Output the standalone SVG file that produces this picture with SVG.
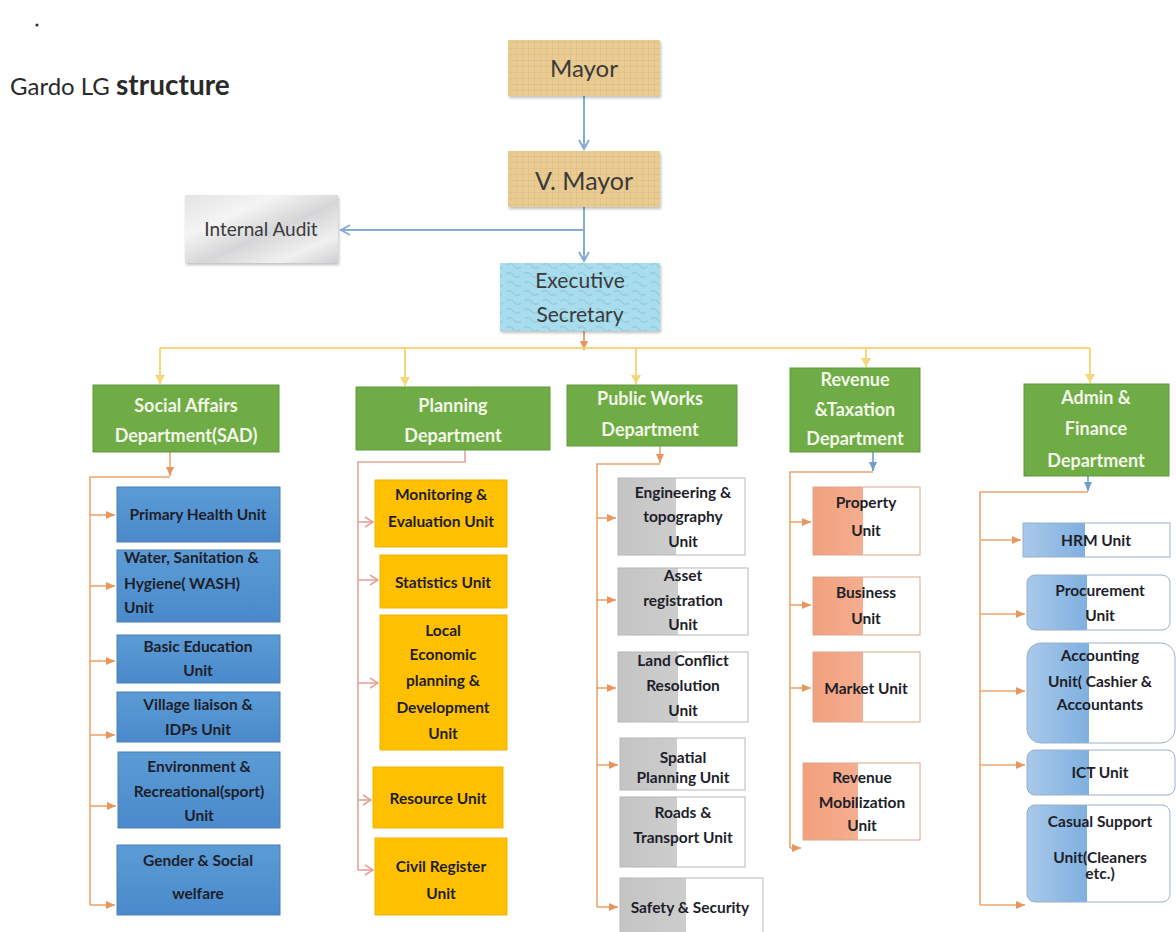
<svg xmlns="http://www.w3.org/2000/svg" width="1176" height="932" viewBox="0 0 1176 932">
<style>
  .t { font-family: Lato, "Open Sans", "Liberation Sans", sans-serif; }
  .top { font-size: 24px; fill: #3a3a3a; text-anchor: middle; }
  .dept rect { fill: #6fac46; stroke: #5e9a3a; stroke-width: 1; }
  .dept text { font-family: Lato, "Open Sans", "Liberation Sans", sans-serif; font-size: 18px; font-weight: bold; fill: #f2f7e8; text-anchor: middle; }
  .unit text { font-family: Lato, "Open Sans", "Liberation Sans", sans-serif; font-size: 15.5px; font-weight: bold; fill: #1e1e2a; text-anchor: middle; }
  .unit text.ls { text-anchor: start; }
  .sad rect { fill: url(#gBlue); stroke: #4d7fb5; }
  .plan rect { fill: #ffc000; stroke: #f0b400; }
  .pw rect { fill: url(#gGrey); stroke: #b8b8b8; }
  .rev rect { fill: url(#gSalmon); stroke: #d9a890; }
  .adm rect { fill: url(#gLblue); stroke: #9ab0c8; }
  .cb { fill: none; stroke: #87abd6; stroke-width: 2; }
  .cy { fill: none; stroke: #f5d77a; stroke-width: 2; }
  .co { fill: none; stroke: #eea46c; stroke-width: 1.6; }
  .cp { fill: none; stroke: #e6a29a; stroke-width: 1.6; }
</style>
<defs>
  <marker id="aBlue" markerWidth="12" markerHeight="12" refX="10" refY="6" orient="auto" markerUnits="userSpaceOnUse">
    <path d="M1,1 L10,6 L1,11" fill="none" stroke="#87abd6" stroke-width="2"/>
  </marker>
  <marker id="aYel" markerWidth="10" markerHeight="10" refX="9" refY="5" orient="auto" markerUnits="userSpaceOnUse">
    <path d="M0,0 L9,5 L0,10 Z" fill="#f5d77a"/>
  </marker>
  <marker id="aOr" markerWidth="10" markerHeight="10" refX="9" refY="5" orient="auto" markerUnits="userSpaceOnUse">
    <path d="M0,1 L9,5 L0,9 Z" fill="#e8955e"/>
  </marker>
  <marker id="aPk" markerWidth="10" markerHeight="12" refX="9" refY="6" orient="auto" markerUnits="userSpaceOnUse">
    <path d="M1,1 L9,6 L1,11" fill="none" stroke="#e6a29a" stroke-width="1.5"/>
  </marker>
  <marker id="aSB" markerWidth="10" markerHeight="10" refX="9" refY="5" orient="auto" markerUnits="userSpaceOnUse">
    <path d="M0,1 L9,5 L0,9 Z" fill="#6f9ccf"/>
  </marker>
  <pattern id="pGrid" width="6" height="6" patternUnits="userSpaceOnUse">
    <rect width="6" height="6" fill="#e9cc93"/>
    <path d="M0,0 H6 M0,0 V6" stroke="#d9b778" stroke-width="0.8"/>
  </pattern>
  <pattern id="pCyan" width="18" height="18" patternUnits="userSpaceOnUse">
    <rect width="18" height="18" fill="#a9dcec"/>
    <path d="M2,4 Q6,1 9,5 T16,6 M3,13 Q7,10 10,14 T17,15" stroke="#8ccde2" stroke-width="1.2" fill="none"/>
  </pattern>
  <linearGradient id="gMarble" x1="0" y1="0" x2="1" y2="1">
    <stop offset="0" stop-color="#e4e4e4"/>
    <stop offset="0.3" stop-color="#f4f4f4"/>
    <stop offset="0.55" stop-color="#d6d6d8"/>
    <stop offset="0.8" stop-color="#f0f0f0"/>
    <stop offset="1" stop-color="#cfcfd2"/>
  </linearGradient>
  <linearGradient id="gBlue" x1="0" y1="0" x2="0" y2="1">
    <stop offset="0" stop-color="#5b9bd5"/>
    <stop offset="1" stop-color="#4a8acb"/>
  </linearGradient>
  <linearGradient id="gGrey" x1="0" y1="0" x2="1" y2="0">
    <stop offset="0" stop-color="#c4c4c4"/>
    <stop offset="0.46" stop-color="#cdcdcd"/>
    <stop offset="0.46" stop-color="#ffffff"/>
    <stop offset="1" stop-color="#ffffff"/>
  </linearGradient>
  <linearGradient id="gSalmon" x1="0" y1="0" x2="1" y2="0">
    <stop offset="0" stop-color="#f2a07c"/>
    <stop offset="0.47" stop-color="#f5ae90"/>
    <stop offset="0.47" stop-color="#ffffff"/>
    <stop offset="1" stop-color="#ffffff"/>
  </linearGradient>
  <linearGradient id="gLblue" x1="0" y1="0" x2="1" y2="0">
    <stop offset="0" stop-color="#a9c9ea"/>
    <stop offset="0.42" stop-color="#7fb0e0"/>
    <stop offset="0.42" stop-color="#ffffff"/>
    <stop offset="1" stop-color="#ffffff"/>
  </linearGradient>
  <filter id="sh" x="-10%" y="-10%" width="120%" height="130%">
    <feDropShadow dx="1" dy="2" stdDeviation="1.5" flood-color="#000" flood-opacity="0.25"/>
  </filter>
</defs>
<rect width="1176" height="932" fill="#ffffff"/>

<g id="title">
  <circle cx="37" cy="25" r="1.6" fill="#333"/>
  <text class="t" x="10" y="95" font-size="24" fill="#2a2a2a">Gardo  LG <tspan font-size="28" font-weight="bold">structure</tspan></text>
</g>

<g id="connectors">
  <path class="cb" d="M584,96 V149" marker-end="url(#aBlue)"/>
  <path class="cb" d="M584,207 V261" marker-end="url(#aBlue)"/>
  <path class="cb" d="M584,230 H341" marker-end="url(#aBlue)"/>
  <path d="M584,331 V350" stroke="#e6a07a" stroke-width="2" fill="none" marker-end="url(#aOr)"/>
  <path class="cy" d="M160,348 H1090"/>
  <path class="cy" d="M160,348 V384" marker-end="url(#aYel)"/>
  <path class="cy" d="M405,348 V386" marker-end="url(#aYel)"/>
  <path class="cy" d="M636,348 V384" marker-end="url(#aYel)"/>
  <path class="cy" d="M866,348 V367" marker-end="url(#aYel)"/>
  <path class="cy" d="M1090,348 V383" marker-end="url(#aYel)"/>

  <path class="co" d="M170,452 V476" marker-end="url(#aOr)"/>
  <path class="co" d="M170,477 H90 V905"/>
  <path class="co" d="M90,515 H115" marker-end="url(#aOr)"/>
  <path class="co" d="M90,586 H115" marker-end="url(#aOr)"/>
  <path class="co" d="M90,661 H115" marker-end="url(#aOr)"/>
  <path class="co" d="M90,735 H115" marker-end="url(#aOr)"/>
  <path class="co" d="M90,806 H116" marker-end="url(#aOr)"/>
  <path class="co" d="M90,905 H115" marker-end="url(#aOr)"/>

  <path class="cp" d="M465,450 V462 H358 V870"/>
  <path class="cp" d="M358,522 H373" marker-end="url(#aPk)"/>
  <path class="cp" d="M358,580 H378" marker-end="url(#aPk)"/>
  <path class="cp" d="M358,683 H378" marker-end="url(#aPk)"/>
  <path class="cp" d="M358,800 H371" marker-end="url(#aPk)"/>
  <path class="cp" d="M358,870 H373" marker-end="url(#aPk)"/>

  <path class="co" d="M660,446 V463" marker-end="url(#aOr)"/>
  <path class="co" d="M660,464 H597 V907"/>
  <path class="co" d="M597,518 H616" marker-end="url(#aOr)"/>
  <path class="co" d="M597,600 H616" marker-end="url(#aOr)"/>
  <path class="co" d="M597,688 H616" marker-end="url(#aOr)"/>
  <path class="co" d="M597,765 H618" marker-end="url(#aOr)"/>
  <path class="co" d="M597,907 H618" marker-end="url(#aOr)"/>

  <path d="M873,452 V471" stroke="#6f9ccf" stroke-width="1.6" fill="none" marker-end="url(#aSB)"/>
  <path class="co" d="M873,472 H790 V848"/>
  <path class="co" d="M790,522 H811" marker-end="url(#aOr)"/>
  <path class="co" d="M790,605 H811" marker-end="url(#aOr)"/>
  <path class="co" d="M790,688 H811" marker-end="url(#aOr)"/>
  <path class="co" d="M790,848 H801" marker-end="url(#aOr)"/>

  <path d="M1088,476 V491" stroke="#6f9ccf" stroke-width="1.6" fill="none" marker-end="url(#aSB)"/>
  <path class="co" d="M1088,492 H980 V905"/>
  <path class="co" d="M980,540 H1021" marker-end="url(#aOr)"/>
  <path class="co" d="M980,614 H1025" marker-end="url(#aOr)"/>
  <path class="co" d="M980,691 H1025" marker-end="url(#aOr)"/>
  <path class="co" d="M980,765 H1025" marker-end="url(#aOr)"/>
  <path class="co" d="M980,905 H1025" marker-end="url(#aOr)"/>
</g>

<g id="mayor">
  <rect x="508" y="40" width="152" height="56" fill="url(#pGrid)" filter="url(#sh)"/>
  <text class="t top" x="584" y="77">Mayor</text>
</g>
<g id="vmayor">
  <rect x="508" y="151" width="152" height="56" fill="url(#pGrid)" filter="url(#sh)"/>
  <text class="t top" x="584" y="190" style="font-size:25px">V. Mayor</text>
</g>
<g id="audit">
  <rect x="185" y="195" width="153" height="68" fill="url(#gMarble)" filter="url(#sh)"/>
  <text class="t top" x="261" y="236" style="font-size:19px">Internal Audit</text>
</g>
<g id="exec">
  <rect x="500" y="263" width="160" height="68" fill="url(#pCyan)" filter="url(#sh)"/>
  <text class="t top" x="580" y="288" style="font-size:21px">Executive</text>
  <text class="t top" x="580" y="322" style="font-size:21px">Secretary</text>
</g>

<g id="dept-sad" class="dept">
  <rect x="93" y="385" width="186" height="67"/>
  <text x="186" y="412">Social Affairs</text>
  <text x="186" y="442">Department(SAD)</text>
</g>
<g id="dept-plan" class="dept">
  <rect x="356" y="387" width="194" height="63"/>
  <text x="453" y="412">Planning</text>
  <text x="453" y="442">Department</text>
</g>
<g id="dept-pw" class="dept">
  <rect x="567" y="385" width="170" height="61"/>
  <text x="650" y="405">Public Works</text>
  <text x="650" y="436">Department</text>
</g>
<g id="dept-rev" class="dept">
  <rect x="790" y="368" width="130" height="84"/>
  <text x="855" y="386">Revenue</text>
  <text x="855" y="416">&amp;Taxation</text>
  <text x="855" y="445">Department</text>
</g>
<g id="dept-adm" class="dept">
  <rect x="1024" y="384" width="145" height="92"/>
  <text x="1096" y="404">Admin &amp;</text>
  <text x="1096" y="435">Finance</text>
  <text x="1096" y="467">Department</text>
</g>

<g id="u-phu" class="unit sad"><rect x="117" y="487" width="163" height="55"/><text x="198" y="520">Primary Health Unit</text></g>
<g id="u-wash" class="unit sad"><rect x="117" y="550" width="163" height="72"/>
  <text class="ls" x="124" y="563">Water, Sanitation &amp;</text>
  <text class="ls" x="124" y="589">Hygiene( WASH)</text>
  <text class="ls" x="124" y="613">Unit</text></g>
<g id="u-edu" class="unit sad"><rect x="117" y="635" width="163" height="48"/><text x="198" y="652">Basic Education</text><text x="198" y="676">Unit</text></g>
<g id="u-vil" class="unit sad"><rect x="117" y="692" width="163" height="50"/><text x="198" y="710">Village liaison &amp;</text><text x="198" y="735">IDPs Unit</text></g>
<g id="u-env" class="unit sad"><rect x="118" y="752" width="162" height="76"/><text x="199" y="772">Environment &amp;</text><text x="199" y="797">Recreational(sport)</text><text x="199" y="821">Unit</text></g>
<g id="u-gen" class="unit sad"><rect x="117" y="845" width="163" height="70"/><text x="198" y="866">Gender &amp; Social</text><text x="198" y="899">welfare</text></g>

<g id="u-me" class="unit plan"><rect x="375" y="480" width="132" height="67"/><text x="441" y="500">Monitoring &amp;</text><text x="441" y="527">Evaluation Unit</text></g>
<g id="u-stat" class="unit plan"><rect x="380" y="555" width="127" height="53"/><text x="443" y="588">Statistics Unit</text></g>
<g id="u-led" class="unit plan"><rect x="380" y="615" width="127" height="135"/><text x="443" y="636">Local</text><text x="443" y="660">Economic</text><text x="443" y="686">planning &amp;</text><text x="443" y="713">Development</text><text x="443" y="739">Unit</text></g>
<g id="u-res" class="unit plan"><rect x="373" y="767" width="130" height="61"/><text x="438" y="804">Resource Unit</text></g>
<g id="u-civ" class="unit plan"><rect x="375" y="838" width="132" height="77"/><text x="441" y="872">Civil Register</text><text x="441" y="899">Unit</text></g>

<g id="u-eng" class="unit pw"><rect x="618" y="478" width="127" height="77"/><text x="683" y="498">Engineering &amp;</text><text x="683" y="522">topography</text><text x="683" y="547">Unit</text></g>
<g id="u-asset" class="unit pw"><rect x="618" y="568" width="130" height="67"/><text x="683" y="581">Asset</text><text x="683" y="606">registration</text><text x="683" y="630">Unit</text></g>
<g id="u-land" class="unit pw"><rect x="618" y="652" width="130" height="70"/><text x="683" y="666">Land Conflict</text><text x="683" y="691">Resolution</text><text x="683" y="716">Unit</text></g>
<g id="u-spat" class="unit pw"><rect x="620" y="738" width="125" height="52"/><text x="683" y="763">Spatial</text><text x="683" y="783">Planning Unit</text></g>
<g id="u-road" class="unit pw"><rect x="620" y="797" width="125" height="70"/><text x="683" y="818">Roads &amp;</text><text x="683" y="843">Transport Unit</text></g>
<g id="u-safe" class="unit pw"><rect x="620" y="878" width="143" height="60"/><text x="690" y="913">Safety &amp; Security</text></g>

<g id="u-prop" class="unit rev"><rect x="813" y="487" width="107" height="68"/><text x="866" y="508">Property</text><text x="866" y="536">Unit</text></g>
<g id="u-bus" class="unit rev"><rect x="813" y="577" width="107" height="58"/><text x="866" y="598">Business</text><text x="866" y="624">Unit</text></g>
<g id="u-mkt" class="unit rev"><rect x="813" y="652" width="107" height="70"/><text x="866" y="694">Market Unit</text></g>
<g id="u-mob" class="unit rev"><rect x="803" y="763" width="117" height="77"/><text x="862" y="783">Revenue</text><text x="862" y="808">Mobilization</text><text x="862" y="831">Unit</text></g>

<g id="u-hrm" class="unit adm"><rect x="1023" y="523" width="147" height="34"/><text x="1096" y="546">HRM Unit</text></g>
<g id="u-proc" class="unit adm"><rect x="1027" y="575" width="143" height="55" rx="8"/><text x="1100" y="596">Procurement</text><text x="1100" y="621">Unit</text></g>
<g id="u-acc" class="unit adm"><rect x="1027" y="643" width="148" height="100" rx="14"/><text x="1100" y="661">Accounting</text><text x="1100" y="687">Unit( Cashier &amp;</text><text x="1100" y="710">Accountants</text></g>
<g id="u-ict" class="unit adm"><rect x="1027" y="750" width="148" height="45" rx="8"/><text x="1100" y="778">ICT Unit</text></g>
<g id="u-cas" class="unit adm"><rect x="1027" y="805" width="143" height="97" rx="8"/><text x="1100" y="827">Casual Support</text><text x="1100" y="863">Unit(Cleaners</text><text x="1100" y="879">etc.)</text></g>
</svg>
